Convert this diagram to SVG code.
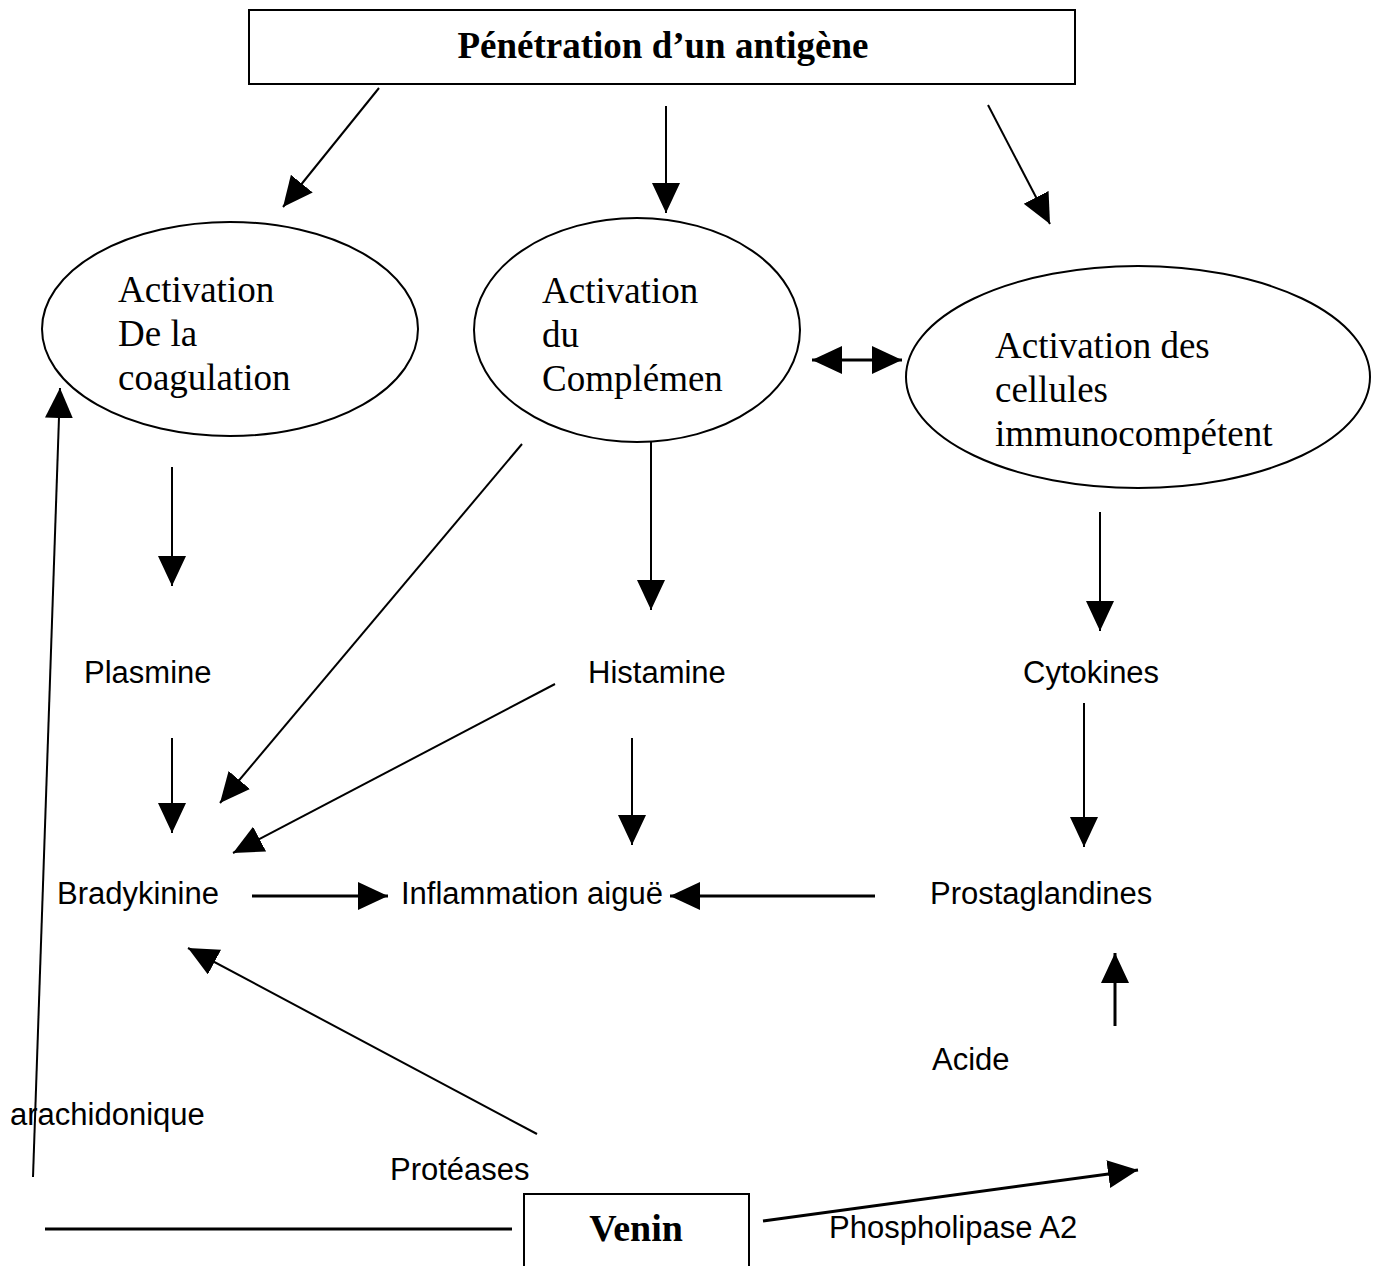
<svg xmlns="http://www.w3.org/2000/svg" width="1376" height="1266" viewBox="0 0 1376 1266">
<style>
.serif{font-family:"Liberation Serif","Times New Roman",serif;fill:#000}
.sans{font-family:"Liberation Sans",Arial,sans-serif;font-size:31px;fill:#000}
.shape{fill:#fff;stroke:#000;stroke-width:2}
.c{stroke:#000;stroke-width:2;fill:none}
.a{marker-end:url(#ah)}
.thick{stroke-width:3}
</style>
<defs>
<marker id="ah" markerUnits="userSpaceOnUse" markerWidth="32" markerHeight="30" refX="30" refY="14" orient="auto">
<path d="M0,0 L30,14 L0,28 z" fill="#000"/>
</marker>
<marker id="as" markerUnits="userSpaceOnUse" markerWidth="32" markerHeight="30" refX="30" refY="14" orient="auto-start-reverse">
<path d="M0,0 L30,14 L0,28 z" fill="#000"/>
</marker>
</defs>
<rect width="1376" height="1266" fill="#fff"/>
<g id="connectors">
<line class="c a" x1="379" y1="88" x2="283" y2="207"/>
<line class="c a" x1="666" y1="106" x2="666" y2="213"/>
<line class="c a" x1="988" y1="105" x2="1050" y2="224"/>
<line class="c thick" x1="812" y1="360" x2="902" y2="360" marker-start="url(#as)" marker-end="url(#as)"/>
<line class="c a" x1="172" y1="467" x2="172" y2="586"/>
<line class="c a" x1="651" y1="442" x2="651" y2="610"/>
<line class="c a" x1="1100" y1="512" x2="1100" y2="631"/>
<line class="c a" x1="522" y1="444" x2="220" y2="803"/>
<line class="c a" x1="555" y1="684" x2="233" y2="853"/>
<line class="c a" x1="172" y1="738" x2="172" y2="833"/>
<line class="c a" x1="632" y1="738" x2="632" y2="845"/>
<line class="c a" x1="1084" y1="703" x2="1084" y2="847"/>
<line class="c a thick" x1="252" y1="896" x2="388" y2="896"/>
<line class="c a thick" x1="875" y1="896" x2="670" y2="896"/>
<line class="c a thick" x1="1115" y1="1026" x2="1115" y2="953"/>
<line class="c a" x1="537" y1="1134" x2="188" y2="948"/>
<line class="c a thick" x1="763" y1="1221" x2="1138" y2="1170"/>
<line class="c a" x1="33" y1="1177" x2="60" y2="388"/>
<line class="c thick" x1="45" y1="1229" x2="512" y2="1229"/>
</g>
<g id="n-antigene">
<rect class="shape" x="249" y="10" width="826" height="74"/>
<text class="serif" x="663" y="58" font-size="37" font-weight="bold" text-anchor="middle">Pénétration d’un antigène</text>
</g>
<g id="n-coagulation">
<ellipse class="shape" cx="230" cy="329" rx="188" ry="107"/>
<text class="serif" font-size="37"><tspan x="118" y="302">Activation</tspan><tspan x="118" y="346">De la</tspan><tspan x="118" y="390">coagulation</tspan></text>
</g>
<g id="n-complement">
<ellipse class="shape" cx="637" cy="330" rx="163" ry="112"/>
<text class="serif" font-size="37"><tspan x="542" y="303">Activation</tspan><tspan x="542" y="347">du</tspan><tspan x="542" y="391">Complémen</tspan></text>
</g>
<g id="n-cellules">
<ellipse class="shape" cx="1138" cy="377" rx="232" ry="111"/>
<text class="serif" font-size="37"><tspan x="995" y="358">Activation des</tspan><tspan x="995" y="402">cellules</tspan><tspan x="995" y="446">immunocompétent</tspan></text>
</g>
<g id="n-plasmine"><text class="sans" x="84" y="683">Plasmine</text></g>
<g id="n-histamine"><text class="sans" x="588" y="683">Histamine</text></g>
<g id="n-cytokines"><text class="sans" x="1023" y="683">Cytokines</text></g>
<g id="n-bradykinine"><text class="sans" x="57" y="904">Bradykinine</text></g>
<g id="n-inflammation"><text class="sans" x="401" y="904">Inflammation aiguë</text></g>
<g id="n-prostaglandines"><text class="sans" x="930" y="904">Prostaglandines</text></g>
<g id="n-acide"><text class="sans" x="932" y="1070">Acide</text></g>
<g id="n-arachidonique"><text class="sans" x="10" y="1125">arachidonique</text></g>
<g id="n-proteases"><text class="sans" x="390" y="1180">Protéases</text></g>
<g id="n-phospholipase"><text class="sans" x="829" y="1238">Phospholipase A2</text></g>
<g id="n-venin">
<rect class="shape" x="524" y="1194" width="225" height="80"/>
<text class="serif" x="636" y="1241" font-size="38" font-weight="bold" text-anchor="middle">Venin</text>
</g>
</svg>
